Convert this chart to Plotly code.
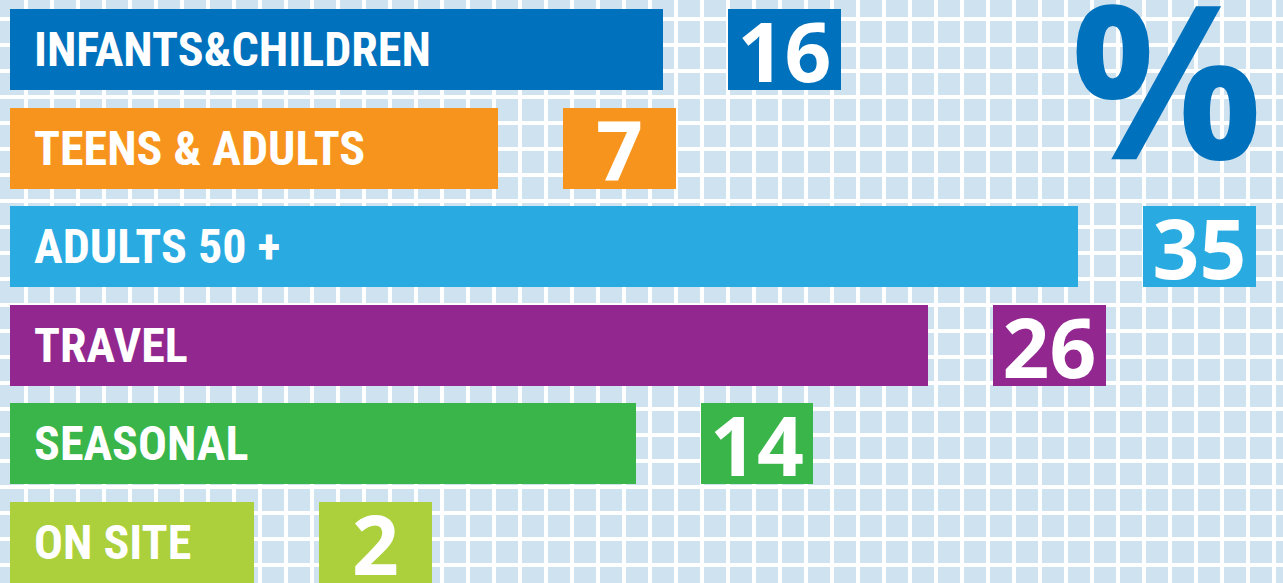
import plotly.graph_objects as go

# ---- data ----
categories = ["INFANTS&CHILDREN", "TEENS & ADULTS", "ADULTS 50 +", "TRAVEL", "SEASONAL", "ON SITE"]
values = [16, 7, 35, 26, 14, 2]
# displayed bar lengths (the infographic's bars are not proportional to the values)
bar_length = [21.4, 16.0, 35.0, 30.1, 20.5, 8.0]
colors = ["#0071bc", "#f7941d", "#29abe2", "#92278f", "#39b54a", "#abd03b"]

W, H = 1283, 583
GAP = 2.13      # gap between bar and value box (axis units)
BOX = 3.7       # value box width (axis units)

fig = go.Figure()

# invisible trace to anchor the background grid subplot
fig.add_trace(go.Scatter(x=[0], y=[0], mode="markers", marker=dict(opacity=0),
                         hoverinfo="skip", showlegend=False, xaxis="x", yaxis="y"))

# main bars
fig.add_trace(go.Bar(
    y=categories, x=bar_length, base=0, orientation="h",
    marker=dict(color=colors, line=dict(width=0)), width=0.82,
    xaxis="x2", yaxis="y2", showlegend=False, hoverinfo="skip",
))

# value boxes
fig.add_trace(go.Bar(
    y=categories, x=[BOX] * len(values), base=[b + GAP for b in bar_length],
    orientation="h", width=0.82,
    marker=dict(color=colors, line=dict(width=0)),
    text=[str(v) for v in values], textposition="inside", insidetextanchor="middle",
    textangle=0, constraintext="none",
    textfont=dict(family="Open Sans", size=82, color="white", weight="bold"),
    xaxis="x2", yaxis="y2", showlegend=False, hoverinfo="skip",
))

annotations = []
for c in categories:
    annotations.append(dict(
        x=0, y=c, xref="x2", yref="y2", text=c, showarrow=False,
        xanchor="left", yanchor="middle", xshift=22, yshift=0,
        font=dict(family="Liberation Sans Narrow, Arial Narrow, Roboto Condensed, Liberation Sans",
                  size=48, color="white", weight="bold"),
    ))
annotations.append(dict(
    x=1166 / W, y=1 - 76 / H, xref="paper", yref="paper", text="%", showarrow=False,
    xanchor="center", yanchor="middle",
    font=dict(family="Open Sans", size=214, color="#0071bc", weight="bold"),
))

px_per_unit = (1078 - 10) / 35.0
pitch = 98.6
fig.update_layout(
    width=W, height=H, margin=dict(l=0, r=0, t=0, b=0),
    paper_bgcolor="white", plot_bgcolor="#cfe2f0",
    bargap=0, barmode="overlay",
    xaxis=dict(range=[0, W], tick0=25.5, dtick=26, showgrid=True, gridcolor="white",
               gridwidth=4, zeroline=False, showticklabels=False, showline=False,
               ticks="", fixedrange=True),
    yaxis=dict(range=[H, 0], tick0=19, dtick=26, showgrid=True, gridcolor="white",
               gridwidth=4, zeroline=False, showticklabels=False, showline=False,
               ticks="", fixedrange=True),
    xaxis2=dict(overlaying="x", range=[-10 / px_per_unit, (W - 10) / px_per_unit],
                showgrid=False, zeroline=False, showticklabels=False, showline=False, ticks=""),
    yaxis2=dict(overlaying="y", type="category", categoryorder="array", categoryarray=categories,
                range=[(H - 49.5) / pitch, -49.5 / pitch],
                showgrid=False, zeroline=False, showticklabels=False, showline=False, ticks=""),
    annotations=annotations,
)

fig.write_html("out.html")
